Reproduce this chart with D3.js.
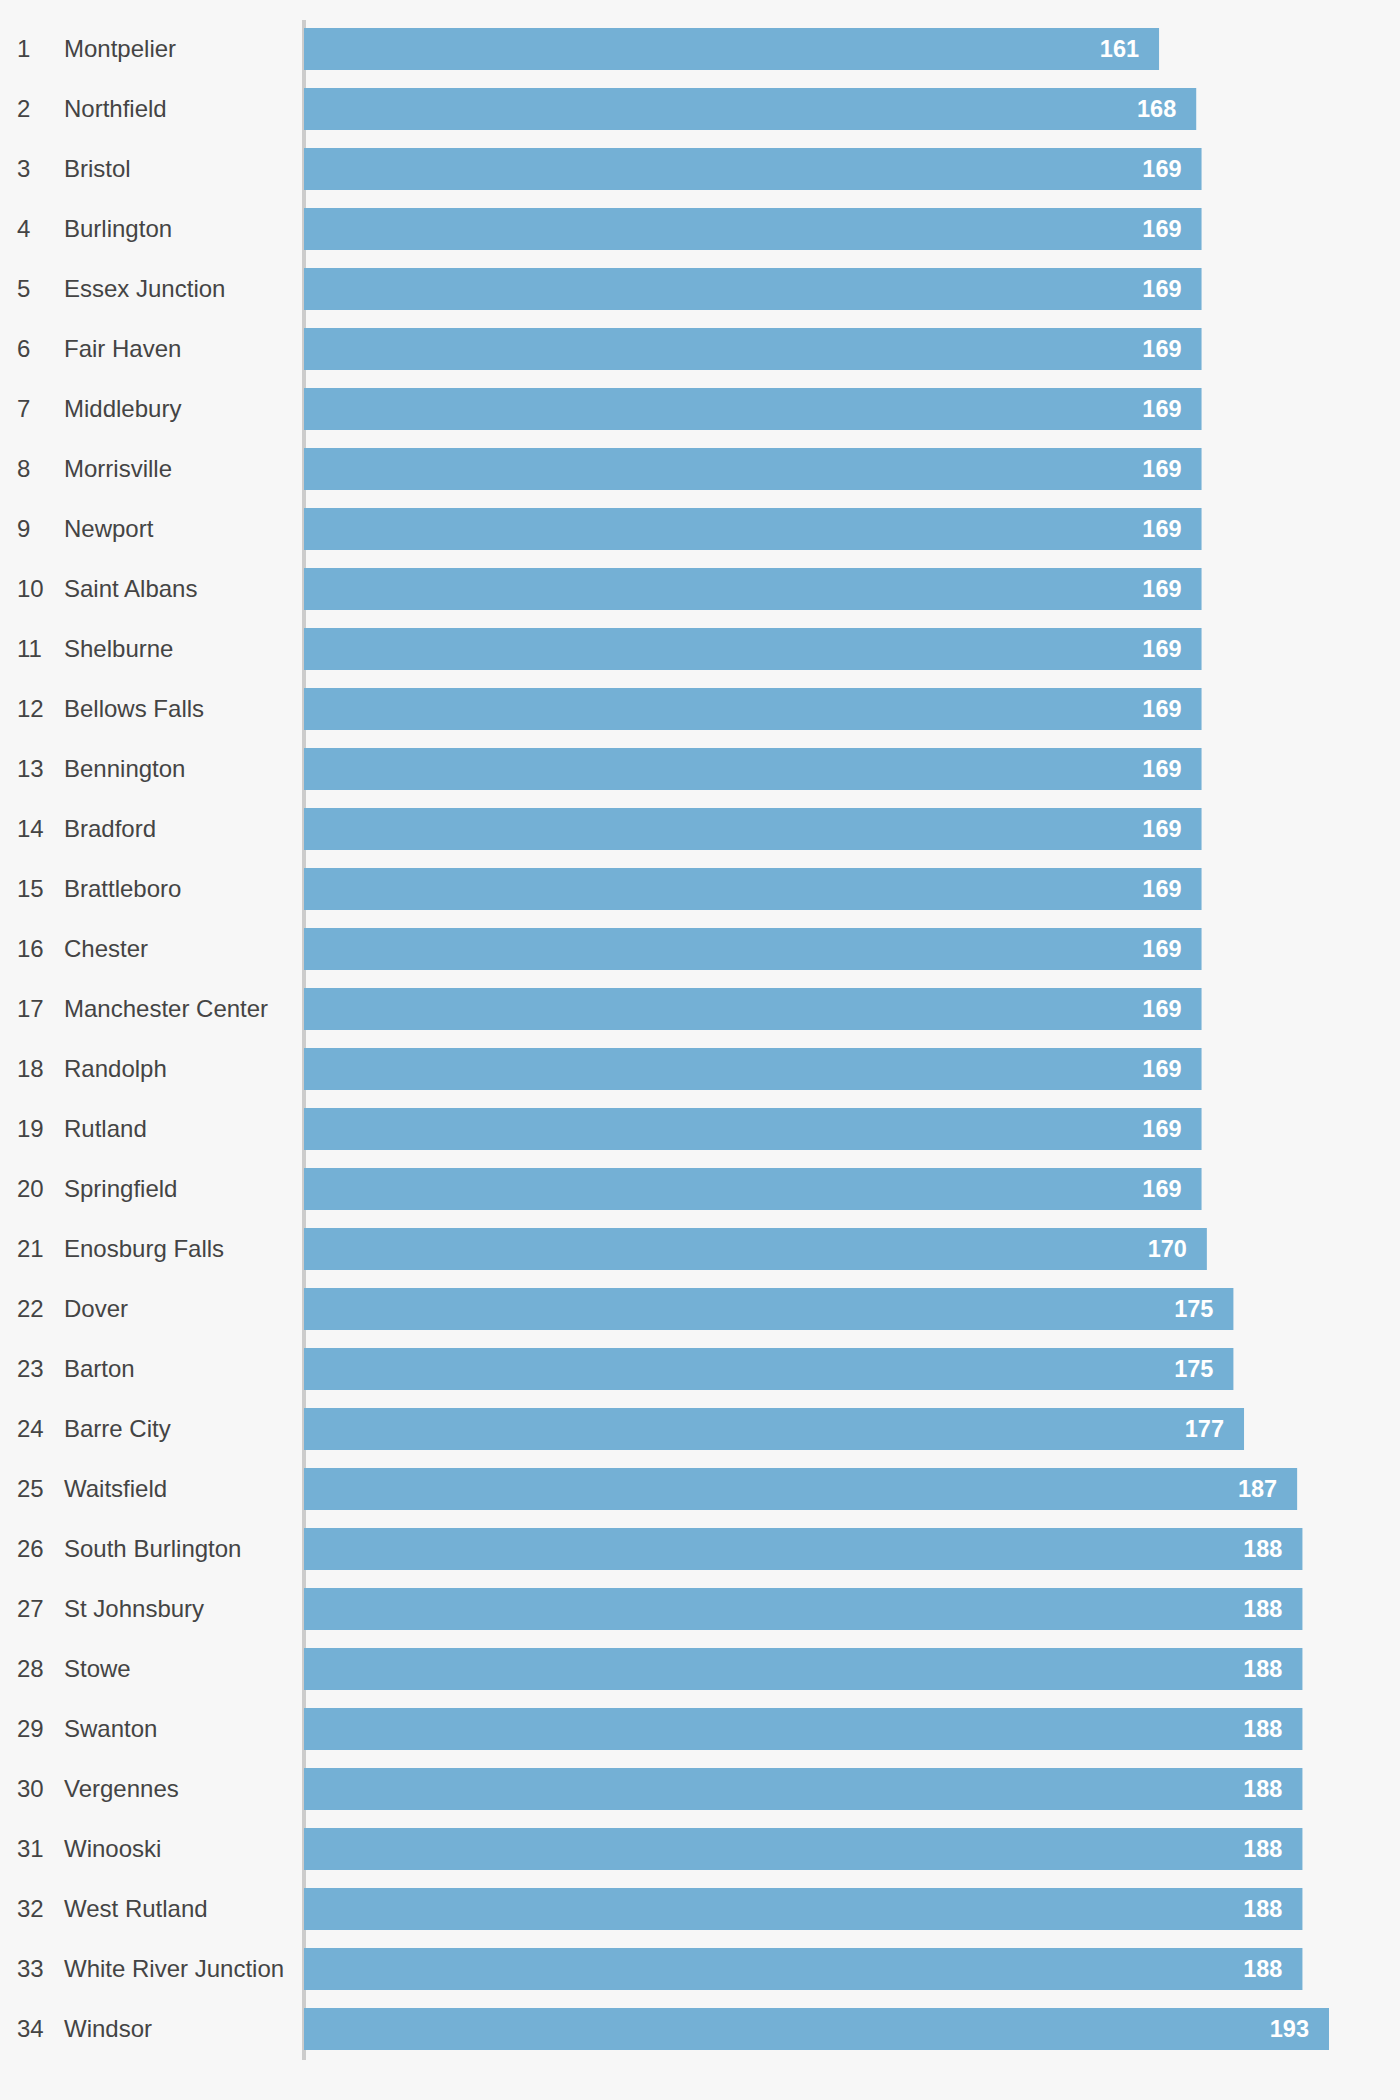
<!DOCTYPE html>
<html>
<head>
<meta charset="utf-8">
<script src="https://cdn.jsdelivr.net/npm/d3@7"></script>
<style>
  html, body { margin: 0; padding: 0; background: #f7f7f7; }
  svg { display: block; }
</style>
</head>
<body>
<div id="chart"></div>
<script>
const ranks = [1,2,3,4,5,6,7,8,9,10,11,12,13,14,15,16,17,18,19,20,21,22,23,24,25,26,27,28,29,30,31,32,33,34];
const towns = ["Montpelier","Northfield","Bristol","Burlington","Essex Junction","Fair Haven","Middlebury","Morrisville","Newport","Saint Albans","Shelburne","Bellows Falls","Bennington","Bradford","Brattleboro","Chester","Manchester Center","Randolph","Rutland","Springfield","Enosburg Falls","Dover","Barton","Barre City","Waitsfield","South Burlington","St Johnsbury","Stowe","Swanton","Vergennes","Winooski","West Rutland","White River Junction","Windsor"];
const values = [161,168,169,169,169,169,169,169,169,169,169,169,169,169,169,169,169,169,169,169,170,175,175,177,187,188,188,188,188,188,188,188,188,193];

const W = 1400, H = 2100;
const x0 = 304;
const svg = d3.select("#chart").append("svg").attr("width", W).attr("height", H);
svg.append("rect").attr("width", W).attr("height", H).attr("fill", "#f7f7f7");

const y = d3.scaleBand().domain(towns).range([19, 2059]).paddingInner(0.3).paddingOuter(0.15);
const x = d3.scaleLinear().domain([0, d3.max(values)]).range([0, 1025]);

const data = towns.map((t, i) => ({town: t, rank: ranks[i], value: values[i]}));

// axis line
svg.append("line")
  .attr("x1", x0).attr("x2", x0)
  .attr("y1", 20).attr("y2", 2060)
  .attr("stroke", "#cccccc").attr("stroke-width", 4);

const rows = svg.selectAll("g.row").data(data).enter().append("g").attr("class", "row");

rows.append("rect")
  .attr("x", x0)
  .attr("y", d => y(d.town))
  .attr("width", d => x(d.value))
  .attr("height", y.bandwidth())
  .attr("fill", "#74b0d5");

rows.append("text")
  .attr("x", 17)
  .attr("y", d => y(d.town) + y.bandwidth() / 2)
  .attr("dy", "0.35em")
  .attr("font-family", "Liberation Sans, Arial, Helvetica, sans-serif")
  .attr("font-size", 24)
  .attr("fill", "#444")
  .text(d => d.rank);

rows.append("text")
  .attr("x", 64)
  .attr("y", d => y(d.town) + y.bandwidth() / 2)
  .attr("dy", "0.35em")
  .attr("font-family", "Liberation Sans, Arial, Helvetica, sans-serif")
  .attr("font-size", 24)
  .attr("fill", "#444")
  .text(d => d.town);

rows.append("text")
  .attr("x", d => x0 + x(d.value) - 20)
  .attr("y", d => y(d.town) + y.bandwidth() / 2)
  .attr("dy", "0.35em")
  .attr("text-anchor", "end")
  .attr("font-family", "Liberation Sans, Arial, Helvetica, sans-serif")
  .attr("font-size", 23.5)
  .attr("font-weight", "bold")
  .attr("fill", "#fff")
  .text(d => d.value);
</script>
</body>
</html>
